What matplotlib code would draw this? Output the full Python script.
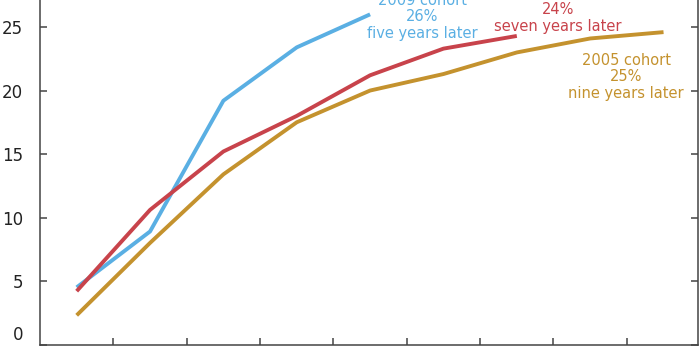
import matplotlib
matplotlib.use("Agg")
import matplotlib.pyplot as plt

# share of each cohort (%) by year since start
years = [1, 2, 3, 4, 5, 6, 7, 8, 9]
cohort_2009 = [4.5, 8.9, 19.2, 23.4, 26.0]
cohort_2007 = [4.2, 10.6, 15.2, 18.0, 21.2, 23.3, 24.3]
cohort_2005 = [2.3, 8.0, 13.4, 17.5, 20.0, 21.3, 23.0, 24.1, 24.6]

labels = {
    "2009": "2009 cohort\n26%\nfive years later",
    "2007": "2007 cohort\n24%\nseven years later",
    "2005": "2005 cohort\n25%\nnine years later",
}

blue = "#5aafe3"
red = "#c8434b"
gold = "#c4922e"
axis_col = "#444444"

fig = plt.figure(figsize=(7, 3.5), dpi=100)
ax = fig.add_axes([40 / 700, 5.5 / 350, 658 / 700, 344.5 / 350])

ax.plot(years[:len(cohort_2009)], cohort_2009, color=blue, lw=2.8, solid_capstyle="butt")
ax.plot(years[:len(cohort_2007)], cohort_2007, color=red, lw=2.8, solid_capstyle="butt")
ax.plot(years[:len(cohort_2005)], cohort_2005, color=gold, lw=2.8, solid_capstyle="butt")

text_kw = dict(fontsize=10.5, ha="center", va="center", multialignment="center",
               linespacing=1.12)
ax.text(5.71, 25.8, labels["2009"], color=blue, **text_kw)
ax.text(7.56, 26.35, labels["2007"], color=red, **text_kw)
ax.text(8.49, 21.08, labels["2005"], color=gold, **text_kw)

ax.set_xlim(0.5, 9.47)
ax.set_ylim(0, 27.13)
ax.set_yticks([0, 5, 10, 15, 20, 25])
ax.set_xticks([y + 0.5 for y in years[:-1]])
ax.set_xticklabels([])

ax.spines["top"].set_visible(False)
for side in ["left", "right", "bottom"]:
    ax.spines[side].set_color(axis_col)
    ax.spines[side].set_linewidth(1.1)
ax.tick_params(axis="both", direction="in", length=5, width=1.1, color=axis_col,
               labelsize=12, labelcolor="#222222", pad=12)
ax.tick_params(axis="y", right=True, labelright=False)

# keep the zero label sitting on the baseline instead of below it
fig.canvas.draw()
ax.get_yticklabels()[0].set_verticalalignment("bottom")

fig.savefig("out.png", dpi=100)
